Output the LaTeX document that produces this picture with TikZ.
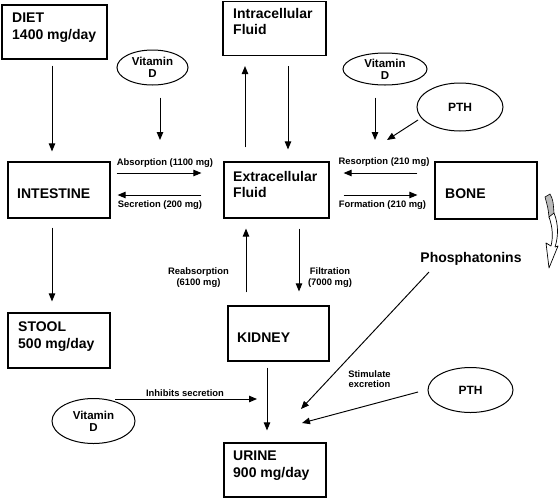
\documentclass[tikz,border=0pt]{standalone}
\usepackage{fontspec}
\setmainfont{Liberation Sans}
\usetikzlibrary{arrows.meta,calc,shapes.geometric}
\begin{document}
\begin{tikzpicture}[x=1pt,y=-1pt,
  box/.style={draw, line width=1.2pt, rectangle, inner sep=0pt},
  btxt/.style={anchor=north west, align=left, inner sep=0pt, font=\bfseries\fontsize{14}{16.3}\selectfont},
  oval/.style={draw, line width=1pt, ellipse, inner sep=0pt, align=center, font=\bfseries\fontsize{11.5}{12.3}\selectfont},
  lbl/.style={font=\bfseries\fontsize{9.4}{11}\selectfont, inner sep=0pt, align=center},
  arr/.style={line width=0.95pt, -{Triangle[length=8pt,width=6.5pt]}}
]
\useasboundingbox (0,0) rectangle (560,499);
\fill[white] (0,0) rectangle (560,499);

% boxes
\node[box, minimum width=105pt, minimum height=54pt] (diet) at (54.5,32) {};
\node[btxt] (dietT) at (12,13) {DIET\\1400 mg/day};
\node[box, minimum width=103pt, minimum height=54pt] (icf) at (274.5,28.5) {};
\node[btxt] (icfT) at (233,8) {Intracellular\\Fluid};
\node[box, minimum width=102pt, minimum height=56pt] (int) at (59,190) {};
\node[btxt, anchor=base west] (intT) at (17,198) {INTESTINE};
\node[box, minimum width=105pt, minimum height=56pt] (ecf) at (276.5,190) {};
\node[btxt] (ecfT) at (233,171) {Extracellular\\Fluid};
\node[box, minimum width=102pt, minimum height=57pt] (bone) at (486,190.5) {};
\node[btxt, anchor=base west] (boneT) at (445,198) {BONE};
\node[box, minimum width=102pt, minimum height=55pt] (stool) at (59,340.5) {};
\node[btxt] (stoolT) at (18,322) {STOOL\\500 mg/day};
\node[box, minimum width=101pt, minimum height=55pt] (kid) at (278.5,333.5) {};
\node[btxt, anchor=base west] (kidT) at (237,342) {KIDNEY};
\node[box, minimum width=102pt, minimum height=54pt] (urine) at (275,470) {};
\node[btxt] (urineT) at (233,451) {URINE\\900 mg/day};

% ellipses
\node[oval, minimum width=71pt, minimum height=35pt] (vd1) at (152.5,67.5) {Vitamin\\D};
\node[oval, minimum width=84pt, minimum height=32pt] (vd2) at (385,69) {Vitamin\\D};
\node[oval, minimum width=86pt, minimum height=48pt, font=\bfseries\fontsize{12}{13}\selectfont] (pth1) at (460,107) {PTH};
\node[oval, minimum width=83pt, minimum height=45pt] (vd3) at (93.5,421) {Vitamin\\D};
\node[oval, minimum width=85pt, minimum height=45pt, font=\bfseries\fontsize{12}{13}\selectfont] (pth2) at (470.5,390) {PTH};

\node[anchor=base, inner sep=0pt, font=\bfseries\fontsize{14}{16}\selectfont] (phos) at (471,262) {Phosphatonins};

% free arrow ends
\coordinate (vdA) at (160,140);
\coordinate (vdB) at (375,140);
\coordinate (vdC) at (387,140);
\coordinate (inhE) at (257,399);
\coordinate (phE) at (301,409);
\coordinate (ptE) at (302,423);

% arrows
\draw[arr] ($(diet.south)+(-2.5,6)$) -- ($(int.north)+(-7,-10)$);
\draw[arr] ($(vd1.south)+(7.5,12)$) -- (vdA);
\draw[arr] ($(ecf.north)+(-31.5,-14)$) -- ($(icf.south)+(-29.5,10)$);
\draw[arr] ($(icf.south)+(13.5,10)$) -- ($(ecf.north)+(11.5,-12)$);
\draw[arr] ($(vd2.south)+(-10,12)$) -- (vdB);
\draw[arr] ($(pth1.center)+(-42,13)$) -- (vdC);
\draw[arr] ($(int.east)+(6,-17)$) -- ($(ecf.west)+(-22,-17)$);
\draw[arr] ($(ecf.west)+(-22,5)$) -- ($(int.east)+(7,5)$);
\draw[arr] ($(bone.west)+(-17,-17.5)$) -- ($(ecf.east)+(14,-17)$);
\draw[arr] ($(ecf.east)+(14,5)$) -- ($(bone.west)+(-17,4.5)$);
\draw[arr] ($(int.south)+(-7,9)$) -- ($(stool.north)+(-7,-11)$);
\draw[arr] ($(kid.north)+(-32.5,-13)$) -- ($(ecf.south)+(-30.5,10)$);
\draw[arr] ($(ecf.south)+(22.5,10)$) -- ($(kid.north)+(20.5,-14)$);
\draw[arr] ($(kid.south)+(-11.5,6)$) -- ($(urine.north)+(-8,-12)$);
\draw[arr] ($(vd3.center)+(21.5,-22)$) -- (inhE);
\draw[arr] ($(phos.base)+(-42,10)$) -- (phE);
\draw[arr] ($(pth2.center)+(-52.5,2)$) -- (ptE);

% labels
\node[lbl, anchor=base] (labs) at (165,165) {Absorption (1100 mg)};
\node[lbl, anchor=base] (lsec) at (160,207) {Secretion (200 mg)};
\node[lbl, anchor=base] (lres) at (384,164) {Resorption (210 mg)};
\node[lbl, anchor=base] (lfor) at (382.5,207) {Formation (210 mg)};
\node[lbl, anchor=north] (lreab) at (198.5,267) {Reabsorption\\(6100 mg)};
\node[lbl, anchor=north] (lfil) at (330,267) {Filtration\\(7000 mg)};
\node[lbl, anchor=base] (linh) at (185,396.5) {Inhibits secretion};
\node[lbl, anchor=north, font=\bfseries\fontsize{9.4}{10.5}\selectfont] (lstim) at (369.5,370) {Stimulate\\excretion};

% decorative curved arrow at right
\filldraw[fill=gray!55, draw=black, line width=0.6pt]
  (545,197) -- (550,194) .. controls (553,200) .. (554,213) -- (549,217) .. controls (548,208) .. (545,197) -- cycle;
\draw[line width=0.7pt] (549,217) .. controls (553,228) and (553,238) .. (551,246);
\draw[line width=0.7pt] (554,213) .. controls (559,225) and (558,238) .. (555,247);
\draw[line width=0.7pt, line join=round] (551,246) -- (546,243) -- (549,268) -- (558,246) -- (555,247);
\end{tikzpicture}
\end{document}
